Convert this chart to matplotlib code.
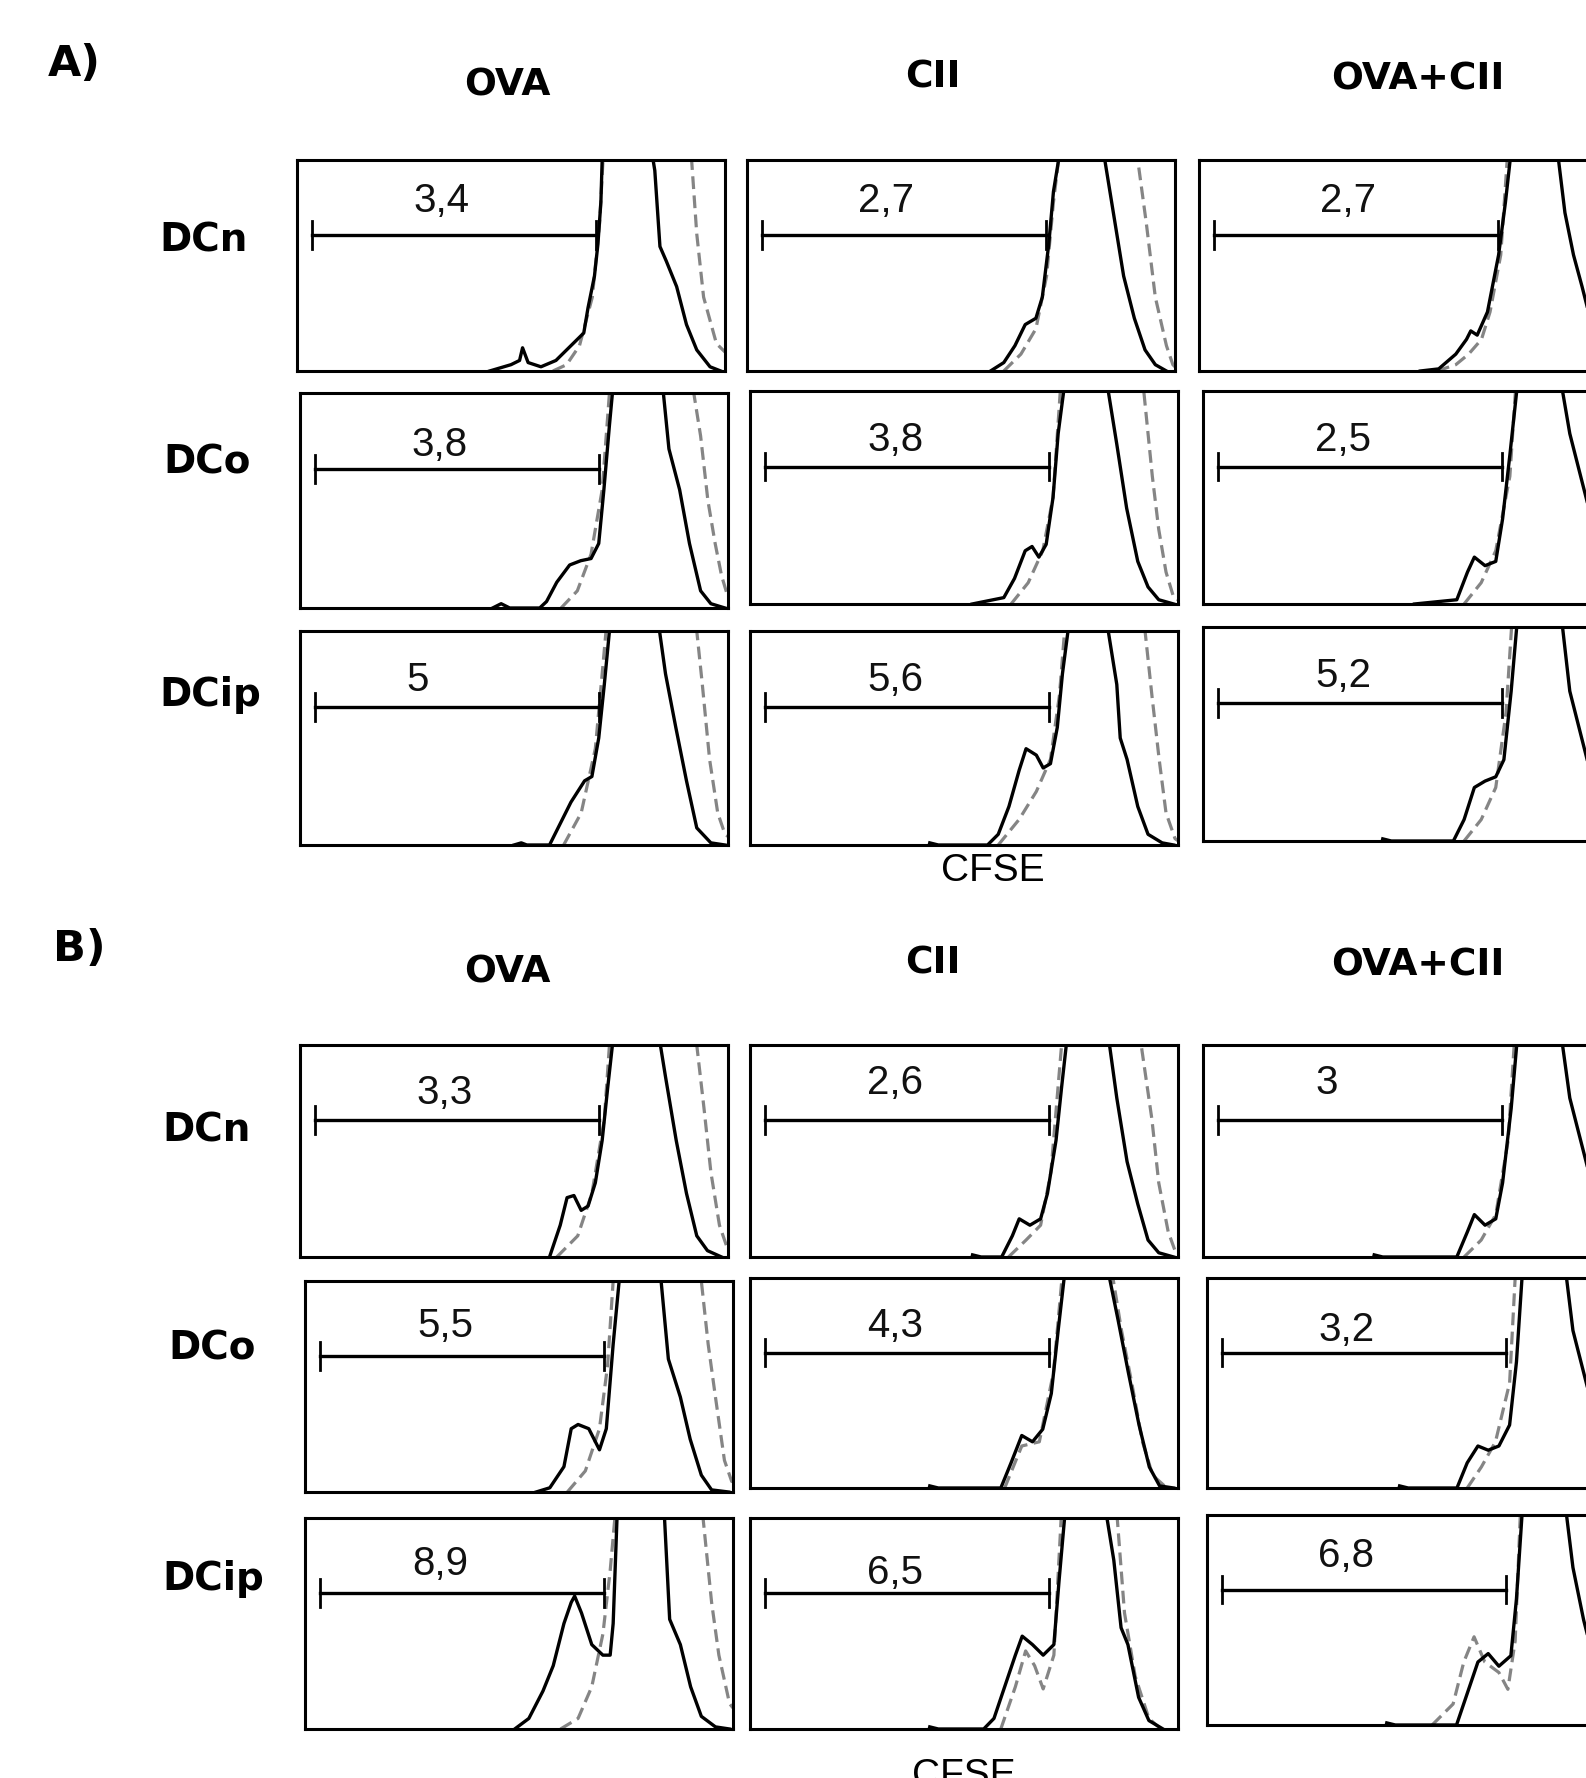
import matplotlib
matplotlib.use("Agg")
import matplotlib.pyplot as plt

W, H = 1586, 1778

# ---------------- data ----------------
panels = ["A", "B"]
columns = ["OVA", "CII", "OVA+CII"]
rows = ["DCn", "DCo", "DCip"]

A_values = [["3,4", "2,7", "2,7"], ["3,8", "3,8", "2,5"], ["5", "5,6", "5,2"]]
B_values = [["3,3", "2,6", "3"], ["5,5", "4,3", "3,2"], ["8,9", "6,5", "6,8"]]

gate_lo = 3.5
gate_hi = 69.8

# histogram curves (x: % of CFSE axis, y: % of count axis; >100 is off-scale)
A_n_OVA_blk = [(45,0),(50,3),(52,5),(52.7,11),(54,4),(57,2),(60.5,5),(63,10),(65,14),(67,18),(68,30),(69.5,45),(70.3,60),(71,80),(71.3,100),(72,150),(82.5,150),(83.2,100),(83.6,95),(84.8,59),(86.3,52),(88.7,40),(91,22),(93.4,10),(96.5,2),(99,0)]
A_n_OVA_gry = [(59.8,0),(63,3),(66,12),(69,35),(70.7,70),(71.5,100),(72,150),(91.5,150),(92.2,100),(93.4,65),(95,35),(98,13),(100,9)]
A_n_CII_blk = [(56.9,0),(60,4),(62.6,12),(65,22),(67.5,25),(69,35),(70.5,60),(71.6,85),(72.8,100),(73.3,150),(83.1,150),(83.6,100),(85.6,75),(88,45),(90.5,25),(93,10),(95.4,3),(98,0)]
A_n_CII_gry = [(60,0),(64,8),(67.5,20),(70,45),(71.6,80),(72.8,100),(73.3,150),(90.8,150),(91.3,100),(93.3,70),(95.4,35),(98,12),(99.5,3),(100,2)]
A_n_OC_blk = [(51.7,0),(56,1),(60,8),(62.5,15),(63.5,19),(65,17),(67.4,28),(70,55),(71.6,80),(72.7,100),(73.2,150),(83.5,150),(84,100),(85.5,75),(87.5,55),(89.5,40),(92,20),(95,6),(98,1),(100,0)]
A_n_OC_gry = [(55.6,0),(60,3),(63,8),(66,15),(68,28),(70.5,55),(72,100),(72.5,150),(90,150),(91,100),(93,60),(96,25),(99,8)]

A_o_OVA_blk = [(45,0),(47,2),(49,0),(56,0),(57.6,3),(60,12),(63,20),(65.6,22),(68,23),(69.8,30),(71,55),(72.3,85),(73,100),(73.5,150),(84.4,150),(84.9,100),(86.2,74),(88.7,55),(91,30),(93.6,8),(96,2),(99.3,0)]
A_o_OVA_gry = [(61,0),(64.8,8),(68,25),(70.6,55),(72.3,100),(72.8,150),(91.5,150),(92,100),(93.6,80),(95.3,50),(97,30),(98.5,15),(100,5)]
A_o_CII_blk = [(51.9,0),(59.3,3),(61.8,12),(64.3,25),(65.9,27),(67.5,22),(69.2,28),(70.8,50),(72,80),(73.3,100),(73.8,150),(83.2,150),(83.7,100),(85.7,75),(88,45),(90.6,20),(93,8),(95.5,2),(99,0)]
A_o_CII_gry = [(61,0),(65,10),(68.4,25),(70.8,50),(72.5,100),(73,150),(91.5,150),(92,100),(94,60),(95.5,35),(97.2,15),(99,3),(100,2)]
A_o_OC_blk = [(49.4,0),(59.3,2),(61.8,15),(63.4,22),(65.9,18),(68.4,20),(70,40),(71.7,70),(73.3,100),(73.8,150),(83.5,150),(84,100),(85.7,80),(89.5,50),(92,30),(95,10),(98,2),(100,0)]
A_o_OC_gry = [(61,0),(65,10),(68.4,25),(71.7,60),(73,100),(73.5,150),(91.5,150),(92,100),(94,60),(97,25),(100,8)]

A_ip_OVA_blk = [(50,0),(51.7,1),(53,0),(58.3,0),(60.8,10),(63.3,20),(66.5,30),(68.2,32),(69.8,50),(71.1,75),(72.3,100),(72.8,150),(83.5,150),(84,100),(85.4,80),(87.8,55),(90.3,30),(92.7,8),(96,1),(99.3,0)]
A_ip_OVA_gry = [(61.6,0),(65.7,15),(69,45),(70.6,80),(71.5,100),(72,150),(92.2,150),(92.7,100),(94,75),(95.7,40),(97.6,15),(99.3,5),(100,4)]
A_ip_CII_blk = [(42,1),(44,0),(55.5,0),(58,5),(60.5,18),(62.9,35),(64.5,45),(66.9,42),(68.5,36),(70.2,38),(71.8,55),(73,80),(74.3,100),(74.8,150),(83.2,150),(83.7,100),(85.7,75),(86.5,50),(88.1,40),(90.6,18),(93,5),(96.3,1),(99,0)]
A_ip_CII_gry = [(58,0),(62.9,12),(66.9,25),(70.2,40),(72.3,70),(73.5,100),(74,150),(91.8,150),(92.3,100),(93.9,70),(95.6,40),(97.2,15),(99.3,3),(100,2)]
A_ip_OC_blk = [(42,1),(44,0),(58.5,0),(61,10),(63.4,25),(65.9,28),(68.4,30),(70.3,38),(72,70),(73.3,100),(73.8,150),(83.5,150),(84,100),(85.7,70),(89.5,40),(92,20),(95,6),(98,1),(100,0)]
A_ip_OC_gry = [(61,0),(65,10),(68.4,25),(70.8,60),(72.1,100),(72.6,150),(91.5,150),(92,100),(94,60),(97,25),(100,8)]

B_n_OVA_blk = [(58.3,0),(60.8,15),(62.4,28),(64,29),(65.7,22),(67.3,24),(69,35),(70.6,55),(71.9,80),(73,100),(73.5,150),(83.7,150),(84.2,100),(85.4,85),(87.9,55),(90.3,30),(92.7,10),(95.2,3),(98.5,0)]
B_n_OVA_gry = [(60,0),(64.9,10),(68.2,30),(71.1,65),(72.3,100),(72.8,150),(92.2,150),(92.7,100),(94.4,70),(96,40),(98,15),(99.7,5),(100,5)]
B_n_CII_blk = [(52,1),(54,0),(58.8,0),(61.3,10),(62.9,18),(65.4,15),(67.9,18),(69.5,30),(71.5,55),(72.8,80),(73.9,100),(74.4,150),(83.5,150),(84,100),(85.7,75),(88.1,45),(90.6,25),(93,8),(95.5,2),(99,0)]
B_n_CII_gry = [(60.4,0),(64.5,8),(67.9,15),(70.3,40),(72.8,100),(73.3,150),(90.9,150),(91.4,100),(93.9,65),(95.5,35),(97.7,12),(99.3,3),(100,2)]
B_n_OC_blk = [(40,1),(42,0),(59.3,0),(61.8,12),(63.4,20),(65.9,15),(68.4,18),(70,35),(72,70),(73.3,100),(73.8,150),(83.5,150),(84,100),(85.7,75),(89.5,45),(92,25),(95,8),(98,1),(100,0)]
B_n_OC_gry = [(61,0),(65,8),(68.4,20),(71.3,55),(72.7,100),(73.2,150),(91.5,150),(92,100),(94,60),(97,25),(100,8)]

B_o_OVA_blk = [(54,0),(57.2,2),(60.5,12),(62.2,30),(63.8,32),(66.3,30),(68.8,20),(70.4,30),(72,70),(73.4,100),(73.9,150),(82.7,150),(83.2,100),(84.9,63),(87.7,45),(90,25),(92.6,8),(95,1),(99,0)]
B_o_OVA_gry = [(61.3,0),(65.5,10),(68.8,30),(70.7,60),(72,100),(72.5,150),(92.1,150),(92.6,100),(94.2,70),(95.9,45),(98,15),(99.7,5),(100,5)]
B_o_CII_blk = [(42,1),(44,0),(58.6,0),(61,12),(63.5,25),(66,22),(68.4,28),(70.4,45),(72,75),(73.4,100),(73.9,150),(83.5,150),(84,100),(86,80),(88.4,55),(90.9,30),(93.3,10),(95.7,1),(99,0)]
B_o_CII_gry = [(59.5,0),(63.5,20),(67.6,22),(70.9,55),(72.9,100),(73.4,150),(84.3,150),(84.8,100),(86.8,75),(89.2,50),(91.7,22),(94.1,6),(97.4,0)]
B_o_OC_blk = [(45,1),(47,0),(58.4,0),(60.8,12),(63.3,20),(65.7,18),(68.2,20),(70.7,30),(72.3,60),(73.6,100),(74.1,150),(83.5,150),(84,100),(85.5,75),(88,55),(90.5,35),(93,15),(96,4),(99,0)]
B_o_OC_gry = [(60.8,0),(64.1,10),(67.4,22),(70.7,50),(72,100),(72.5,150),(91.5,150),(92,100),(94,60),(97,25),(100,8)]

B_ip_OVA_blk = [(49,0),(52.3,5),(55.6,18),(58,30),(60.5,50),(62.2,60),(63,63),(64.6,55),(67,40),(69.6,35),(71.3,35),(72,50),(72.9,100),(73.4,150),(83.5,150),(84,100),(85.2,52),(87.7,40),(90.1,20),(92.6,6),(95.9,1),(99.2,0)]
B_ip_OVA_gry = [(59.7,0),(63.8,5),(67,20),(69.6,45),(71.3,75),(72.4,100),(72.9,150),(92.5,150),(93,100),(95,60),(96.7,35),(99.2,12),(100,10)]
B_ip_CII_blk = [(42,1),(44,0),(54.6,0),(57,5),(59.5,20),(62,35),(63.6,44),(66,40),(68.5,35),(71,40),(72.2,70),(73.5,100),(74,150),(82.9,150),(83.4,100),(85,80),(86.7,48),(88.3,40),(90.8,15),(93.2,4),(96.5,0)]
B_ip_CII_gry = [(58.6,0),(62,20),(64.4,37),(66.5,30),(68.5,19),(71,35),(72.7,100),(73.2,150),(85.3,150),(85.8,100),(87.5,55),(90,25),(93.2,5),(96,0)]
B_ip_OC_blk = [(42,1),(44,0),(58.3,0),(60.8,15),(63.3,30),(65.7,34),(68.2,28),(71,33),(72.3,60),(73.6,100),(74.1,150),(83.5,150),(84,100),(85.5,75),(88,50),(90.5,30),(93,12),(96,3),(99,0)]
B_ip_OC_gry = [(52.6,0),(57.5,10),(60,30),(62.4,42),(64.9,30),(68.2,25),(70.3,17),(72,40),(73.2,100),(73.7,150),(91.5,150),(92,100),(94,60),(97,25),(100,8)]

curves = {
    "A": [[(A_n_OVA_blk, A_n_OVA_gry), (A_n_CII_blk, A_n_CII_gry), (A_n_OC_blk, A_n_OC_gry)],
          [(A_o_OVA_blk, A_o_OVA_gry), (A_o_CII_blk, A_o_CII_gry), (A_o_OC_blk, A_o_OC_gry)],
          [(A_ip_OVA_blk, A_ip_OVA_gry), (A_ip_CII_blk, A_ip_CII_gry), (A_ip_OC_blk, A_ip_OC_gry)]],
    "B": [[(B_n_OVA_blk, B_n_OVA_gry), (B_n_CII_blk, B_n_CII_gry), (B_n_OC_blk, B_n_OC_gry)],
          [(B_o_OVA_blk, B_o_OVA_gry), (B_o_CII_blk, B_o_CII_gry), (B_o_OC_blk, B_o_OC_gry)],
          [(B_ip_OVA_blk, B_ip_OVA_gry), (B_ip_CII_blk, B_ip_CII_gry), (B_ip_OC_blk, B_ip_OC_gry)]],
}
values = {"A": A_values, "B": B_values}

# ---------------- layout (pixels) ----------------
PW = 428
boxes = {
    "A": [[(297, 160, 371), (747, 160, 371), (1199, 160, 371)],
          [(300, 393, 608), (750, 391, 604), (1203, 391, 604)],
          [(300, 631, 845), (750, 631, 845), (1203, 627, 841)]],
    "B": [[(300, 1045, 1257), (750, 1045, 1257), (1203, 1045, 1257)],
          [(305, 1281, 1492), (750, 1278, 1488), (1207, 1278, 1488)],
          [(305, 1518, 1729), (750, 1518, 1729), (1207, 1515, 1725)]],
}
label_pos = {
    "A": [[(33.8, 80.6), (32.5, 80.6), (34.7, 80.6)],
          [(32.7, 76), (33.9, 77), (32.8, 77)],
          [(27.4, 77), (33.9, 77), (32.8, 77)]],
    "B": [[(33.8, 77.5), (33.9, 82), (28.8, 82)],
          [(32.8, 78.5), (33.9, 77), (32.5, 75)],
          [(31.5, 78), (33.9, 74), (32.5, 80.6)]],
}
gate_y = 64.5

panel_letter_pos = {"A": (74, 64), "B": (79, 949)}
col_title_pos = {"A": [(507, 85), (933, 77), (1418, 79)],
                 "B": [(507, 972), (933, 964), (1418, 965)]}
row_label_pos = {"A": [(204, 241), (207, 462), (210, 695)],
                 "B": [(207, 1130), (212, 1349), (213, 1579)]}
cfse_pos = {"A": (993, 871), "B": (964, 1776)}

BOLD = ["DejaVu Sans"]
REG = ["Liberation Sans", "DejaVu Sans"]

fig = plt.figure(figsize=(W / 100, H / 100), dpi=100)
fig.patch.set_facecolor("white")


def fx(x):
    return x / W


def fy(y):
    return 1 - y / H


for p in panels:
    for r in range(3):
        for c in range(3):
            x0, y0, y1 = boxes[p][r][c]
            ax = fig.add_axes([fx(x0), fy(y1), PW / W, (y1 - y0) / H])
            ax.set_xlim(0, 100)
            ax.set_ylim(0, 100)
            ax.set_xticks([])
            ax.set_yticks([])
            for s in ax.spines.values():
                s.set_linewidth(2.2)
                s.set_color("black")
            blk, gry = curves[p][r][c]
            ax.plot([q[0] for q in gry], [q[1] for q in gry], color="#858585",
                    lw=2.3, linestyle=(0, (4, 2)), zorder=2)
            ax.plot([q[0] for q in blk], [q[1] for q in blk], color="black",
                    lw=2.4, zorder=3)
            # gate marker
            ax.plot([gate_lo, gate_hi], [gate_y, gate_y], color="black", lw=2.4, zorder=4)
            for gx in (gate_lo, gate_hi):
                ax.plot([gx, gx], [gate_y - 6.5, gate_y + 6.5], color="black", lw=2.0, zorder=4)
            lx, ly = label_pos[p][r][c]
            ax.text(lx, ly, values[p][r][c], ha="center", va="center",
                    fontsize=29, family=REG, color="#111111")

    lx, ly = panel_letter_pos[p]
    fig.text(fx(lx), fy(ly), p + ")", ha="center", va="center", fontsize=31,
             fontweight="heavy", family=BOLD)
    for c in range(3):
        tx, ty = col_title_pos[p][c]
        fig.text(fx(tx), fy(ty), columns[c], ha="center", va="center", fontsize=27,
                 fontweight="heavy", family=BOLD)
    for r in range(3):
        tx, ty = row_label_pos[p][r]
        fig.text(fx(tx), fy(ty), rows[r], ha="center", va="center", fontsize=28,
                 fontweight="heavy", family=BOLD)
    cx, cy = cfse_pos[p]
    fig.text(fx(cx), fy(cy), "CFSE", ha="center", va="center", fontsize=28, family=REG)

fig.savefig("out.png", dpi=100, facecolor="white")
